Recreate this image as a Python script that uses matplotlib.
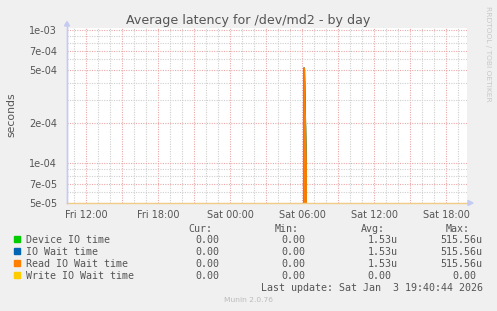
import matplotlib
matplotlib.use("Agg")
from matplotlib import pyplot as plt
from matplotlib.patches import Rectangle, Polygon
from matplotlib.lines import Line2D

W, H = 497, 311

# time axis in hours counted from Fri 00:00
hours = [10.4, 30.08, 30.17, 30.33, 30.42, 43.75]
device_io = [0, 0, 515.56e-6, 96e-6, 0, 0]
io_wait = [0, 0, 515.56e-6, 96e-6, 0, 0]
read_wait = [0, 0, 515.56e-6, 96e-6, 0, 0]
write_wait = [0, 0, 0, 0, 0, 0]

names = ["Device IO time", "IO Wait time", "Read IO Wait time", "Write IO Wait time"]
colors = ["#00CC00", "#0066B3", "#FF8000", "#FFCC00"]
cur = ["0.00", "0.00", "0.00", "0.00"]
mins = ["0.00", "0.00", "0.00", "0.00"]
avgs = ["1.53u", "1.53u", "1.53u", "0.00"]
maxs = ["515.56u", "515.56u", "515.56u", "0.00"]

x_tick_hours = [12, 18, 24, 30, 36, 42]
x_tick_labels = ["Fri 12:00", "Fri 18:00", "Sat 00:00", "Sat 06:00", "Sat 12:00", "Sat 18:00"]
y_major = [5e-5, 7e-5, 1e-4, 2e-4, 5e-4, 7e-4, 1e-3]
y_labels = ["5e-05", "7e-05", "1e-04", "2e-04", "5e-04", "7e-04", "1e-03"]
y_minor = [6e-5, 8e-5, 9e-5, 3e-4, 4e-4, 6e-4, 8e-4, 9e-4]

TXT = "#555555"
MGRID = "#EBA8A8"
GRID = "#CFCFCF"
AXIS = "#C4CAF2"


def f(x, y):
    return (x / W, 1 - y / H)


fig = plt.figure(figsize=(W / 100, H / 100), dpi=100)
fig.patch.set_facecolor("#F0F0F0")
ax = fig.add_axes([67 / W, 108 / H, 400 / W, 175 / H])
ax.set_facecolor("white")

for vals, c in zip([device_io, io_wait, read_wait, write_wait], colors):
    ax.plot(hours, vals, color=c, lw=1.3)

ax.set_yscale("log", nonpositive="clip")
ax.set_ylim(5e-5, 1e-3 * 10 ** (2 / 133.0))
ax.set_xlim(10.4, 43.75)

major_x = list(range(12, 44, 3))
label_map = dict(zip(x_tick_hours, x_tick_labels))
ax.set_xticks(major_x)
ax.set_xticklabels([label_map.get(h, "") for h in major_x])
ax.set_xticks(range(11, 44), minor=True)
ax.set_yticks(y_major)
ax.set_yticklabels(y_labels)
ax.set_yticks(y_minor, minor=True)
ax.tick_params(which="both", length=0, colors=TXT, labelsize=7)
ax.tick_params(axis="x", pad=5)
ax.tick_params(axis="y", pad=7)
ax.grid(which="minor", color=GRID, lw=0.8, ls=(0, (1, 1.2)))
ax.grid(which="major", color=MGRID, lw=0.8, ls=(0, (1, 1.2)))
ax.set_axisbelow(True)

for s in ["top", "right"]:
    ax.spines[s].set_visible(False)
ax.spines["left"].set_color(AXIS)
ax.spines["bottom"].set_color("#F0CD86")
ax.spines["left"].set_linewidth(1)
ax.spines["bottom"].set_linewidth(1)

# axis arrows
fig.add_artist(Line2D([67 / W, 67 / W], [1 - 203 / H, 1 - 24 / H], color=AXIS, lw=1))
fig.add_artist(Polygon([f(64.5, 26), f(69.5, 26), f(67, 21.5)], closed=True,
                       color=AXIS, transform=fig.transFigure))
fig.add_artist(Polygon([f(468, 200.5), f(468, 205.5), f(473, 203)], closed=True,
                       color=AXIS, transform=fig.transFigure))

fig.text(*f(248.5, 24), "Average latency for /dev/md2 - by day", ha="center",
         va="baseline", fontsize=9.1, color=TXT)
fig.text(*f(11, 115), "seconds", rotation=90, ha="center", va="center",
         fontsize=7.8, color=TXT)
fig.text(*f(488, 54), "RRDTOOL / TOBI OETIKER", rotation=270, ha="center",
         va="center", fontsize=5.4, color="#C8C8C8")

mono = dict(family="DejaVu Sans Mono", fontsize=7.2, color=TXT, va="baseline")
for hdr, xr in zip(["Cur:", "Min:", "Avg:", "Max:"], [212.7, 298.3, 385, 470]):
    fig.text(*f(xr, 231.5), hdr, ha="right", **mono)


def colx(s, right):
    # values without a unit letter leave one blank cell at the end
    return right if s[-1].isalpha() else right - 6


for i, name in enumerate(names):
    yb = 243 + 12 * i
    fig.add_artist(Rectangle(f(14, yb - 1.5), 6 / W, 6 / H, color=colors[i],
                             transform=fig.transFigure))
    fig.text(*f(26.3, yb), name, ha="left", **mono)
    fig.text(*f(colx(cur[i], 225.3), yb), cur[i], ha="right", **mono)
    fig.text(*f(colx(mins[i], 311), yb), mins[i], ha="right", **mono)
    fig.text(*f(colx(avgs[i], 397.3), yb), avgs[i], ha="right", **mono)
    fig.text(*f(colx(maxs[i], 482.7), yb), maxs[i], ha="right", **mono)

fig.text(*f(482.7, 291), "Last update: Sat Jan  3 19:40:44 2026", ha="right", **mono)
fig.text(*f(248, 302.5), "Munin 2.0.76", ha="center", va="baseline",
         fontsize=5.4, color="#BBBBBB")

fig.savefig("out.png", dpi=100, facecolor=fig.get_facecolor())
